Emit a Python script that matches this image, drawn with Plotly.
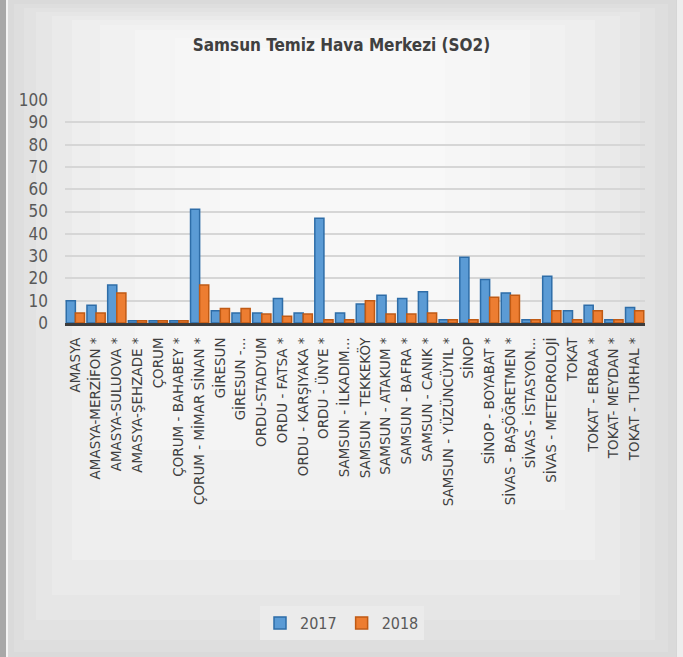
import plotly.graph_objects as go

categories = [
    "AMASYA", "AMASYA-MERZİFON *", "AMASYA-SULUOVA *", "AMASYA-ŞEHZADE *",
    "ÇORUM", "ÇORUM - BAHABEY *", "ÇORUM - MİMAR SİNAN *", "GİRESUN",
    "GİRESUN -...", "ORDU-STADYUM", "ORDU - FATSA *", "ORDU - KARŞIYAKA *",
    "ORDU - ÜNYE *", "SAMSUN - İLKADIM...", "SAMSUN - TEKKEKÖY", "SAMSUN - ATAKUM *",
    "SAMSUN - BAFRA *", "SAMSUN - CANIK *", "SAMSUN - YÜZÜNCÜYIL *", "SİNOP",
    "SİNOP - BOYABAT *", "SİVAS - BAŞÖĞRETMEN *", "SİVAS - İSTASYON...", "SİVAS - METEOROLOJİ",
    "TOKAT", "TOKAT - ERBAA *", "TOKAT- MEYDAN *", "TOKAT - TURHAL *",
]
values_2017 = [10, 8, 17, 1, 1, 1, 51, 5.5, 4.5, 4.5, 11, 4.5, 47, 4.5,
               8.5, 12.5, 11, 14, 1.5, 29.5, 19.5, 13.5, 1.5, 21, 5.5, 8, 1.5, 7]
values_2018 = [4.5, 4.5, 13.5, 1, 1, 1, 17, 6.5, 6.5, 4, 3, 4, 1.5, 1.5,
               10, 4, 4, 4.5, 1.5, 1.5, 11.5, 12.5, 1.5, 5.5, 1.5, 5.5, 1.5, 5.5]
series_names = ["2017", "2018"]
y_ticks = [0, 10, 20, 30, 40, 50, 60, 70, 80, 90, 100]

W, H = 683, 657
L, R, T, B = 65, 38, 100, 334
PW, PH = W - L - R, H - T - B

def px(x):
    return (x - L) / PW

def py(y):
    return (H - B - y) / PH

NARROW = "Liberation Sans Narrow, Arial Narrow, DejaVu Sans Condensed, sans-serif"

fig = go.Figure()
fig.add_trace(go.Bar(x=categories, y=values_2017, name=series_names[0],
                     marker=dict(color="#5B9BD5", line=dict(color="#2E6DA8", width=1.5))))
fig.add_trace(go.Bar(x=categories, y=values_2018, name=series_names[1],
                     marker=dict(color="#ED7D31", line=dict(color="#C05A14", width=1.5))))

# background gradient simulation
shapes = []
shapes.append(dict(type="rect", xref="paper", yref="paper", layer="below",
                   x0=px(0), x1=px(W), y0=py(H), y1=py(0),
                   fillcolor="#d6d6d6", line=dict(width=0)))
steps = [
    (8, 676, 0, 657, "#dadada"),
    (14, 668, 4, 652, "#dedede"),
    (24, 655, 8, 640, "#e2e2e2"),
    (36, 640, 12, 620, "#e6e6e6"),
    (52, 620, 16, 595, "#eaeaea"),
    (72, 595, 20, 560, "#eeeeee"),
    (100, 565, 25, 510, "#f1f1f1"),
    (135, 530, 30, 450, "#f4f4f4"),
    (175, 490, 38, 380, "#f6f6f6"),
    (220, 445, 48, 300, "#f8f8f8"),
]
for x0, x1, y0, y1, c in steps:
    shapes.append(dict(type="rect", xref="paper", yref="paper", layer="below",
                       x0=px(x0), x1=px(x1), y0=py(y1), y1=py(y0),
                       fillcolor=c, line=dict(width=0)))
# left border strip
shapes.append(dict(type="rect", xref="paper", yref="paper", layer="below",
                   x0=px(0), x1=px(6), y0=py(H), y1=py(0),
                   fillcolor="#a8a8a8", line=dict(width=0)))
shapes.append(dict(type="rect", xref="paper", yref="paper", layer="below",
                   x0=px(6), x1=px(8), y0=py(H), y1=py(0),
                   fillcolor="#f4f4f4", line=dict(width=0)))
# right edge
shapes.append(dict(type="rect", xref="paper", yref="paper", layer="below",
                   x0=px(677), x1=px(W), y0=py(H), y1=py(0),
                   fillcolor="#eeeeee", line=dict(width=0)))

fig.update_layout(
    width=W, height=H,
    margin=dict(l=L, r=R, t=T, b=B, autoexpand=False),
    paper_bgcolor="#d6d6d6",
    plot_bgcolor="rgba(0,0,0,0)",
    barmode="group", bargap=0.12, bargroupgap=0.0,
    shapes=shapes,
    title=dict(text="<b>Samsun Temiz Hava Merkezi (SO2)</b>",
               x=0.5, xanchor="center", xref="container",
               y=1 - 45 / H, yanchor="middle", yref="container",
               font=dict(family=NARROW, size=17, color="#404040")),
    font=dict(family=NARROW, color="#595959"),
    legend=dict(orientation="h", x=px(342), xanchor="center",
                y=py(623), yanchor="middle",
                bgcolor="#ebebeb", font=dict(family=NARROW, size=16, color="#595959"),
                itemwidth=30, traceorder="normal"),
    xaxis=dict(type="category", tickangle=-90,
               tickfont=dict(family="DejaVu Sans, Arial, sans-serif", size=13.5, color="#404040"),
               showline=True, linecolor="#3c3c3c", linewidth=3,
               ticks="", showgrid=False, ticklabelstandoff=6),
    yaxis=dict(range=[0, 100], tickvals=y_ticks, showgrid=True,
               gridcolor="#d6d6d6", gridwidth=1.5, zeroline=False,
               tickfont=dict(family=NARROW, size=17, color="#595959"),
               ticks="", ticklabelstandoff=16, fixedrange=True),
)

fig.write_html("out.html")
